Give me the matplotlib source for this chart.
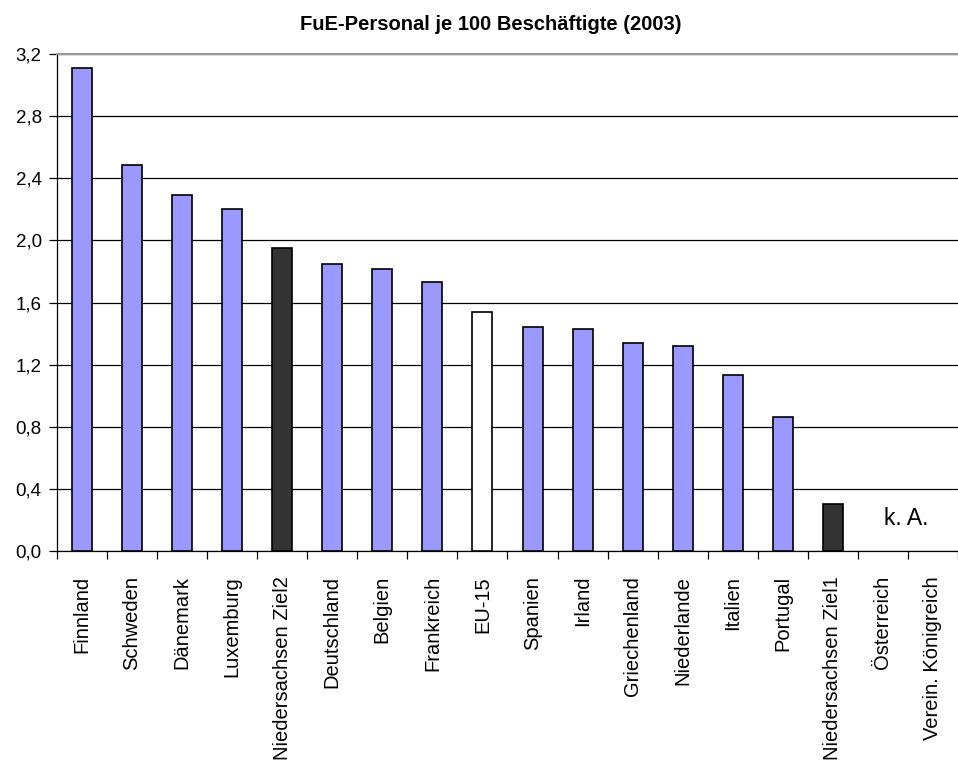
import numpy as np
import matplotlib.pyplot as plt
from matplotlib.ticker import FixedLocator, FuncFormatter

laender = ['Finnland', 'Schweden', 'Dänemark', 'Luxemburg', 'Niedersachsen Ziel2',
           'Deutschland', 'Belgien', 'Frankreich', 'EU-15', 'Spanien', 'Irland',
           'Griechenland', 'Niederlande', 'Italien', 'Portugal', 'Niedersachsen Ziel1',
           'Österreich', 'Verein. Königreich']
werte = [3.11, 2.485, 2.29, 2.20, 1.95, 1.85, 1.815, 1.73, 1.54, 1.445, 1.43,
         1.34, 1.32, 1.13, 0.86, 0.30, 0.0, 0.0]
farben = ['#9999ff'] * 4 + ['#333333'] + ['#9999ff'] * 3 + ['#ffffff'] + \
         ['#9999ff'] * 6 + ['#333333'] + ['#ffffff'] * 2

plt.rcParams['font.family'] = ['Liberation Sans', 'DejaVu Sans']

fig = plt.figure(figsize=(9.58, 7.8), dpi=100)
ax = fig.add_axes([57 / 958, 229 / 780, 1 - 57 / 958, (551 - 54) / 780])

x = np.arange(len(laender))
# nur Balken mit Wert zeichnen (keine Angabe bei Österreich / Ver. Königreich)
for i in range(len(laender)):
    if werte[i] > 0:
        ax.bar(x[i], werte[i], width=0.4, color=farben[i], edgecolor='black',
               linewidth=1.2, zorder=3)

ax.text(x[-1] - 0.54, 0.165, 'k. A.', fontsize=16.5, ha='center', va='baseline')

ax.set_xlim(-0.5, len(laender) - 0.5)
ax.set_ylim(0, 3.2)
ax.set_yticks(np.arange(0, 3.21, 0.4))
ax.yaxis.set_major_formatter(FuncFormatter(lambda v, p: ('%.1f' % v).replace('.', ',')))
ax.yaxis.grid(True, color='black', linewidth=0.9, zorder=0)
ax.tick_params(axis='y', direction='out', length=6, width=0.9, labelsize=13.5, pad=5)

ax.set_xticks(x)
ax.set_xticklabels(laender, rotation=90, fontsize=14.5)
ax.tick_params(axis='x', which='major', length=0, pad=18)
ax.xaxis.set_minor_locator(FixedLocator(np.arange(-0.5, len(laender), 1.0)))
ax.tick_params(axis='x', which='minor', direction='out', length=6, width=0.9)

ax.spines['right'].set_visible(False)
ax.spines['top'].set_color('#999999')
ax.spines['top'].set_linewidth(1.5)
ax.spines['left'].set_linewidth(0.9)
ax.spines['bottom'].set_linewidth(0.9)

fig.text(0.512, 0.962, 'FuE-Personal je 100 Beschäftigte (2003)', ha='center',
         fontsize=14.5, fontweight='bold')

fig.savefig('out.png', dpi=100)
